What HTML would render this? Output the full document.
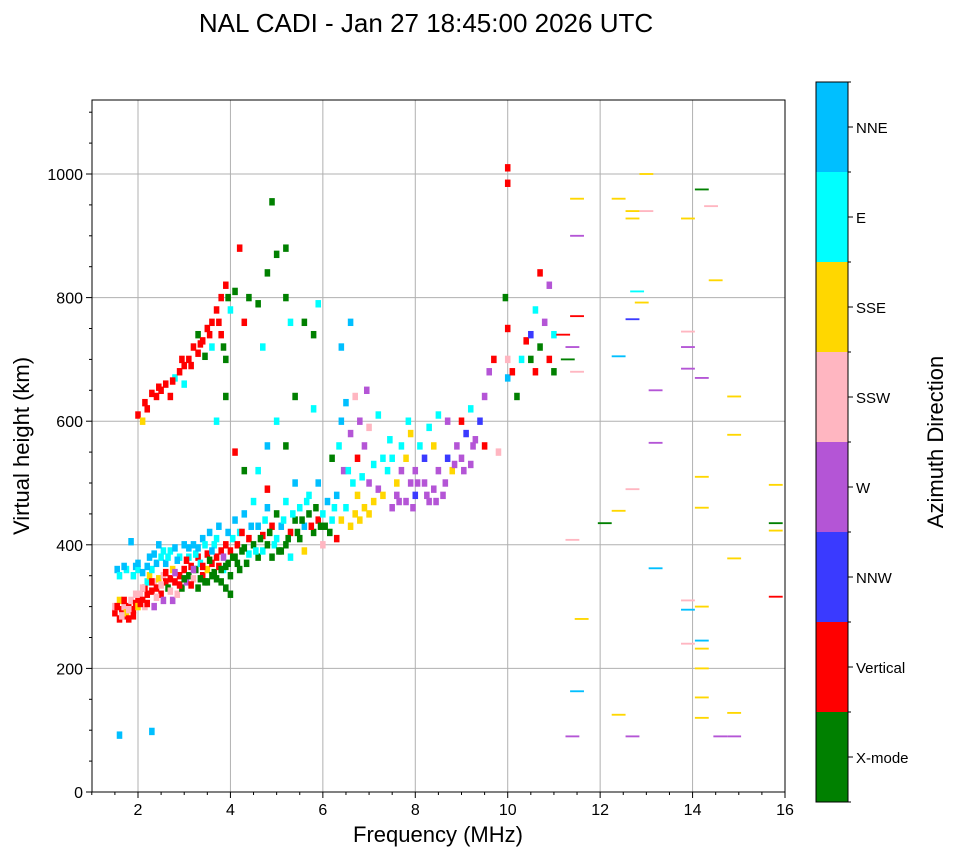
<!DOCTYPE html>
<html><head><meta charset="utf-8"><style>
body{margin:0;background:#fff;}
svg text{font-family:"Liberation Sans","DejaVu Sans",sans-serif;fill:#000;}
</style></head><body>
<svg id="chart" width="958" height="857" xmlns="http://www.w3.org/2000/svg"></svg>
<script>
const colorNames=["X-mode","Vertical","NNW","W","SSW","SSE","E","NNE"];
const colorValues=["#008000","#ff0000","#3a3aff","#b455d6","#ffb6c1","#ffd700","#00ffff","#00bfff"];
const xTicks=[2,4,6,8,10,12,14,16];
const yTicks=[0,200,400,600,800,1000];
const points=[
[1.5,290,1],[1.5,300,4],[1.55,360,7],[1.6,280,1],[1.6,310,5],[1.65,295,1],[1.7,285,1],[1.7,300,4],[1.75,290,5],[1.75,360,6],[1.8,300,1],[1.8,280,1],[1.85,310,4],[1.85,405,7],[1.9,295,1],[1.9,350,6],[1.95,305,1],[1.95,365,7],[2.0,300,5],[2.0,315,1],[2.0,360,6],[2.05,320,4],[2.1,310,1],[2.1,355,7],[2.15,330,1],[2.15,300,4],[2.2,340,6],[2.2,320,1],[2.25,350,5],[2.25,380,7],[2.3,325,1],[2.3,360,6],[2.35,340,4],[2.35,300,3],[2.4,330,1],[2.4,370,7],[2.45,345,5],[2.5,320,1],[2.5,380,6],[2.55,310,3],[2.55,350,4],[2.6,340,1],[2.6,370,7],[2.65,330,0],[2.7,345,1],[2.7,390,6],[2.75,310,3],[2.75,360,5],[2.8,340,1],[2.8,395,7],[2.85,320,4],[2.9,350,1],[2.9,380,6],[2.95,330,0],[3.0,360,1],[3.0,400,7],[3.05,340,3],[3.1,350,0],[3.1,380,6],[3.15,365,1],[3.2,345,4],[3.2,400,7],[3.25,360,0],[3.3,330,0],[3.3,380,1],[3.35,370,6],[3.4,350,1],[3.4,410,7],[3.45,340,0],[3.5,360,5],[3.5,385,1],[3.55,420,7],[3.6,350,0],[3.6,370,1],[3.65,400,6],[3.7,345,0],[3.7,380,1],[3.75,430,7],[3.8,340,0],[3.8,390,1],[3.85,360,6],[3.9,330,0],[3.9,400,1],[3.95,370,0],[4.0,320,0],[4.0,390,1],[4.05,410,6],[4.1,380,0],[4.1,440,7],[4.15,400,1],[4.2,360,0],[4.2,420,6],[4.25,390,0],[4.3,450,7],[4.35,370,0],[4.4,410,1],[4.4,385,6],[4.5,400,0],[4.5,470,6],[4.6,380,0],[4.6,430,7],[4.7,415,1],[4.7,390,6],[4.8,400,0],[4.8,460,7],[4.9,430,1],[4.9,380,0],[5.0,410,6],[5.0,450,0],[5.1,390,0],[5.1,430,7],[5.2,470,6],[5.2,400,0],[5.3,420,1],[5.3,380,6],[5.4,440,0],[5.4,500,7],[5.5,410,0],[5.5,460,6],[5.6,430,7],[5.6,390,5],[5.7,450,0],[5.7,480,6],[5.8,420,0],[5.9,440,1],[5.9,500,7],[6.0,400,4],[6.0,450,6],[6.05,430,0],[6.1,470,7],[6.15,420,0],[6.2,540,0],[6.2,440,6],[6.3,410,1],[6.3,480,7],[6.35,560,6],[6.4,600,7],[6.4,440,5],[6.45,520,3],[6.5,460,6],[6.5,630,7],[6.6,430,5],[6.6,580,3],[6.65,500,6],[6.7,450,5],[6.7,640,4],[6.75,540,1],[6.8,440,5],[6.8,600,3],[6.85,510,6],[6.9,460,5],[6.9,560,3],[6.95,650,3],[7.0,450,5],[7.0,590,4],[7.1,470,5],[7.1,530,6],[7.2,490,3],[7.2,610,6],[7.3,480,5],[7.4,520,6],[7.5,460,3],[7.5,540,6],[7.6,480,3],[7.6,500,5],[7.7,520,3],[7.7,560,6],[7.8,470,3],[7.8,540,5],[7.85,600,6],[7.9,500,3],[7.9,580,5],[8.0,520,3],[8.0,480,2],[8.1,560,6],[8.2,500,3],[8.2,540,2],[8.3,470,3],[8.3,590,6],[8.4,490,3],[8.4,560,5],[8.5,520,3],[8.5,610,6],[8.6,480,3],[8.7,540,2],[8.7,600,3],[8.8,520,5],[8.9,560,3],[9.0,540,3],[9.0,600,1],[9.1,580,2],[9.2,530,3],[9.2,620,6],[9.3,570,3],[9.4,600,2],[9.5,560,1],[9.5,640,3],[9.6,680,3],[9.7,700,1],[9.8,550,4],
[1.55,300,1],[1.65,285,4],[1.7,310,1],[1.8,295,4],[1.9,285,1],[1.95,320,4],[2.05,305,1],[2.1,330,4],[2.2,305,1],[2.3,340,1],[2.4,315,4],[2.5,335,4],[2.6,355,1],[2.65,380,6],[2.7,325,4],[2.8,355,3],[2.85,375,7],[2.9,335,1],[3.0,345,0],[3.05,375,1],[3.1,395,7],[3.15,335,1],[3.2,360,3],[3.25,385,6],[3.3,395,7],[3.35,345,0],[3.4,365,1],[3.45,400,6],[3.5,340,0],[3.55,375,0],[3.6,390,7],[3.65,355,0],[3.7,410,6],[3.75,365,1],[3.8,360,0],[3.85,380,3],[3.9,365,0],[3.95,420,7],[4.0,350,0],[4.05,380,0],[4.15,370,0],[4.25,420,1],[4.3,395,0],[4.45,430,7],[4.55,390,6],[4.65,410,0],[4.75,440,6],[4.85,420,0],[4.95,400,6],[5.05,390,0],[5.15,440,6],[5.25,410,0],[5.35,450,6],[5.45,420,0],[5.55,440,0],[5.65,470,6],[5.75,430,1],[5.85,460,0],[5.95,430,0],[2.2,365,7],[2.0,370,7],[1.6,350,6],[1.7,365,7],[2.35,385,7],[2.55,390,6],[2.45,400,7],[6.25,460,6],[6.55,520,6],[6.75,480,5],[7.0,500,3],[7.3,540,6],[7.45,570,6],[7.65,470,3],[7.95,460,3],[8.05,500,3],[8.25,480,3],[8.45,470,3],[8.65,500,3],[8.85,530,3],[9.05,520,3],[9.25,560,3],
[2.0,610,1],[2.1,600,5],[2.2,620,1],[2.3,645,1],[2.4,640,1],[2.5,650,1],[2.6,660,1],[2.7,640,1],[2.8,670,6],[2.9,680,1],[3.0,690,1],[3.0,660,6],[3.1,700,1],[3.2,720,1],[3.3,710,1],[3.3,740,0],[3.4,730,1],[3.5,750,1],[3.6,760,1],[3.6,720,6],[3.7,780,1],[3.8,740,1],[3.8,800,1],[3.9,700,0],[3.9,820,1],[4.0,780,6],[4.1,810,0],[4.2,880,1],[4.3,760,1],[4.4,800,0],[4.6,790,0],[4.7,720,6],[4.8,840,0],[4.9,955,0],[5.0,870,0],[5.2,880,0],[5.2,800,0],[5.3,760,6],[5.6,760,0],[5.8,740,0],[5.9,790,6],[6.4,720,7],[6.6,760,7],
[2.15,630,1],[2.45,655,1],[2.75,665,1],[2.95,700,1],[3.15,690,1],[3.35,725,1],[3.45,705,0],[3.55,740,1],[3.75,760,1],[3.85,720,0],[3.95,800,0],
[3.7,600,6],[3.9,640,0],[4.1,550,1],[4.3,520,0],[4.6,520,6],[4.8,490,1],[5.0,600,6],[5.4,640,0],[5.8,620,6],[4.8,560,7],[5.2,560,0],[1.6,92,7],[2.3,98,7],
[10.0,1010,1],[10.0,985,1],[9.95,800,0],[10.0,750,1],[10.0,700,4],[10.0,670,7],[10.1,680,1],[10.2,640,0],[10.3,700,6],[10.4,730,1],[10.5,740,2],[10.5,700,0],[10.6,780,6],[10.6,680,1],[10.7,840,1],[10.7,720,0],[10.8,760,3],[10.9,820,3],[10.9,700,1],[11.0,740,6],[11.0,680,0],
[11.2,740,1],[11.3,700,0],[11.4,720,3],[11.5,960,5],[11.5,900,3],[11.5,770,1],[11.6,280,5],[11.5,680,4],[11.4,408,4],[11.5,163,7],[11.4,90,3],[12.1,435,0],
[12.4,960,5],[12.7,940,5],[12.7,928,5],[12.8,810,6],[12.9,792,5],[13.0,1000,5],[13.0,940,4],[12.7,765,2],[12.4,705,7],[13.2,650,3],[13.2,565,3],[12.7,490,4],[12.4,455,5],[13.2,362,7],[12.4,125,5],[12.7,90,3],[13.9,928,5],[14.2,975,0],[14.4,948,4],[14.5,828,5],[13.9,745,4],[13.9,720,3],[13.9,685,3],[14.2,670,3],[14.9,640,5],[14.9,578,5],[14.2,510,5],[14.2,460,5],[14.9,378,5],[13.9,310,4],[14.2,300,5],[13.9,295,7],[14.2,245,7],[14.2,232,5],[14.2,200,5],[13.9,240,4],[14.2,153,5],[14.2,120,5],[14.9,128,5],[14.9,90,3],[14.6,90,3],[15.8,497,5],[15.8,435,0],[15.8,423,5],[15.8,316,1]
];
const NS="http://www.w3.org/2000/svg";
const svg=document.getElementById('chart');
const L=92,R=785,T=100,B=792;
const xS=f=>138+(f-2)*(785-138)/14;
const yS=h=>792-h*0.618;
function mk(tag,attrs,parent){const e=document.createElementNS(NS,tag);for(const k in attrs)e.setAttribute(k,attrs[k]);(parent||svg).appendChild(e);return e;}
xTicks.forEach(v=>{const l=mk('line',{x1:xS(v),x2:xS(v),y1:T,y2:B,stroke:'#b0b0b0','stroke-width':1});

});
yTicks.forEach(v=>{const l=mk('line',{x1:L,x2:R,y1:yS(v),y2:yS(v),stroke:'#b0b0b0','stroke-width':1});

});
points.forEach(p=>{const wide=p[0]>11;const w=wide?0.3:0.12;const h=wide?3:12;
const r=mk('rect',{x:xS(p[0]-w/2),y:yS(p[1]+h/2),width:xS(w)-xS(0),height:h*0.618,fill:colorValues[p[2]]});

});
const fr=mk('rect',{x:L,y:T,width:R-L,height:B-T,fill:'none',stroke:'#000','stroke-width':1});


for(let v=1;v<=16;v+=0.5){const major=xTicks.includes(v);mk('line',{x1:xS(v),x2:xS(v),y1:B,y2:B+(major?6:3),stroke:'#000'});}
xTicks.forEach(v=>{const t=mk('text',{x:xS(v),y:B+23,'text-anchor':'middle','font-size':16});t.textContent=v;

});
for(let v=0;v<=1100;v+=50){const major=yTicks.includes(v);mk('line',{x1:L,x2:L-(major?6:3),y1:yS(v),y2:yS(v),stroke:'#000'});}
yTicks.forEach(v=>{const t=mk('text',{x:L-9,y:yS(v)+6,'text-anchor':'end','font-size':16});t.textContent=v;

});
const segH=90,cbX=816,cbY=82;
colorValues.forEach((c,i)=>{const y=cbY+(7-i)*segH;
const r=mk('rect',{x:cbX,y:y,width:32,height:segH,fill:c});


mk('line',{x1:848,x2:853,y1:y+45,y2:y+45,stroke:'#000'});
const t=mk('text',{x:856,y:y+51,'font-size':15});t.textContent=colorNames[i];

});
for(let i=0;i<=8;i++){mk('line',{x1:848,x2:851,y1:cbY+i*segH,y2:cbY+i*segH,stroke:'#000'});}
mk('rect',{x:cbX,y:cbY,width:32,height:8*segH,fill:'none',stroke:'#000'});
</script>
<script>
(function(){const svg=document.getElementById('chart');const NS="http://www.w3.org/2000/svg";
function t(txt,attrs,name){const e=document.createElementNS(NS,'text');for(const k in attrs)e.setAttribute(k,attrs[k]);e.textContent=txt;


svg.appendChild(e);}
t('NAL CADI - Jan 27 18:45:00 2026 UTC',{x:426,y:32,'text-anchor':'middle','font-size':26},'chart-title');
t('Frequency (MHz)',{x:438,y:842,'text-anchor':'middle','font-size':22},'x-axis-title');
t('Virtual height (km)',{x:0,y:0,'text-anchor':'middle','font-size':22,transform:'translate(29,446) rotate(-90)'},'y-axis-title');
t('Azimuth Direction',{x:0,y:0,'text-anchor':'middle','font-size':22,transform:'translate(943,442) rotate(-90)'},'colorbar-title');
})();
</script>
</body></html>
